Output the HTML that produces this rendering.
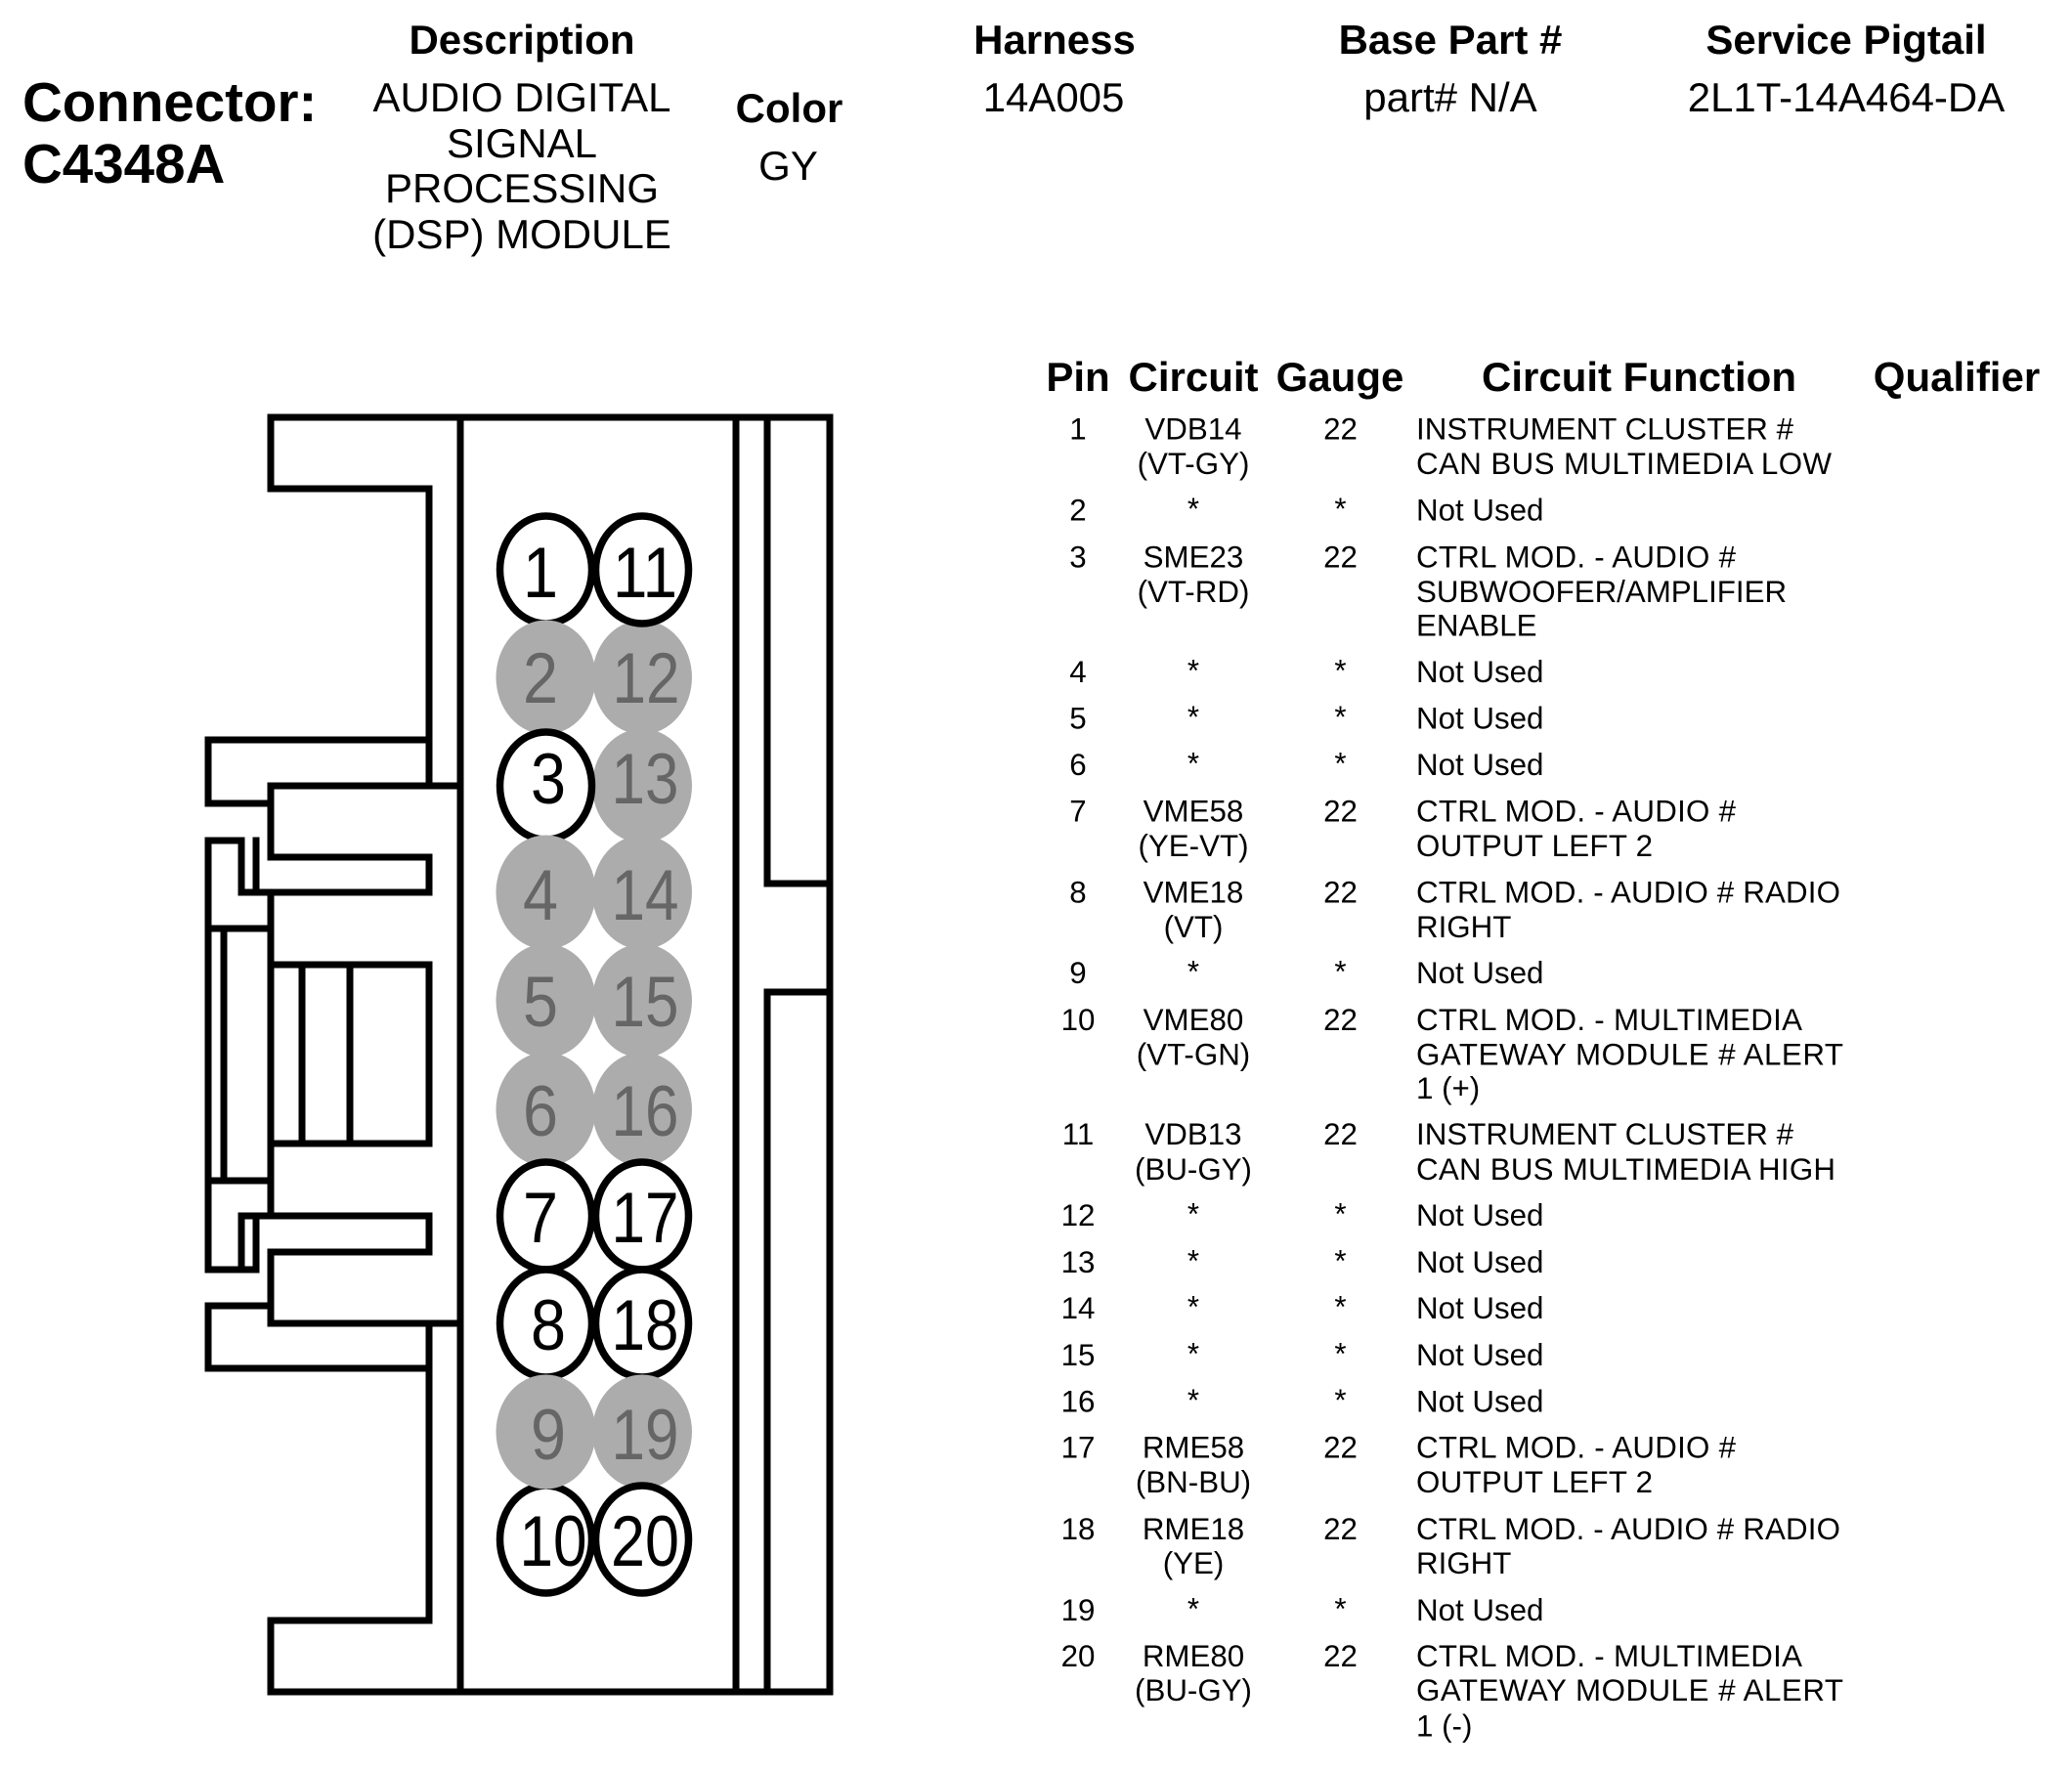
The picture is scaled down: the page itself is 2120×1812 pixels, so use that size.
<!DOCTYPE html>
<html lang="en">
<head>
<meta charset="utf-8">
<title>Connector C4348A</title>
<style>
html,body{margin:0;padding:0;background:#fff;}
svg{display:block;}
text{font-family:"Liberation Sans",Arial,sans-serif;fill:#000;}
.b{font-weight:bold;font-size:42px;text-anchor:middle;}
.h{font-size:42px;text-anchor:middle;}
.t{font-size:31.3px;}
.c{font-size:31.3px;text-anchor:middle;}
.l{fill:none;stroke:#000;stroke-width:7;stroke-linecap:square;stroke-linejoin:miter;}
.w{fill:#fff;stroke:#000;stroke-width:7.5;}
.g{fill:#acacac;stroke:none;}
.n{font-size:73px;text-anchor:middle;}
.gt{fill:#666;}
</style>
</head>
<body>
<svg xmlns="http://www.w3.org/2000/svg" width="2120" height="1812" viewBox="0 0 2120 1812">
<rect width="2120" height="1812" fill="#fff"/>

<!-- Top header -->
<text x="23" y="124" style="font-size:56.5px;font-weight:bold">Connector:</text>
<text x="23" y="187" style="font-size:56.5px;font-weight:bold">C4348A</text>
<text class="b" x="534" y="55">Description</text>
<text class="h" x="534" y="114">AUDIO DIGITAL</text>
<text class="h" x="534" y="161">SIGNAL</text>
<text class="h" x="534" y="207">PROCESSING</text>
<text class="h" x="534" y="254">(DSP) MODULE</text>
<text class="b" x="807.5" y="125">Color</text>
<text class="h" x="806.5" y="184">GY</text>
<text class="b" x="1079" y="55">Harness</text>
<text class="h" x="1078" y="114">14A005</text>
<text class="b" x="1484" y="55">Base Part #</text>
<text class="h" x="1484" y="114">part# N/A</text>
<text class="b" x="1889" y="55">Service Pigtail</text>
<text class="h" x="1889" y="114">2L1T-14A464-DA</text>

<!-- Connector outline -->
<g class="l">
<path d="M277 427H849V1731H277V1658H439V1354H277V1281H439V1244H247V1299H213V1208H277V1170H439V987H277V913H439V877H277V804H471"/>
<path d="M471 427V1731"/>
<path d="M753 427V1731"/>
<path d="M785 427V904H849"/>
<path d="M849 1015H785V1731"/>
<path d="M277 427V500H439V804"/>
<path d="M439 757H213V822H277V804"/>
<path d="M277 913H247V860H213V1299H262V1244"/>
<path d="M262 860V913"/>
<path d="M213 950H277"/>
<path d="M229 950V1208"/>
<path d="M277 987V1244"/>
<path d="M309 987V1170"/>
<path d="M358 987V1170"/>
<path d="M277 1354V1336H213V1400H439"/>
<path d="M439 1354H471"/>
</g>

<!-- Pins -->
<ellipse class="w" cx="558.5" cy="583" rx="47" ry="55"/>
<ellipse class="g" cx="657" cy="693" rx="51" ry="58.5"/>
<ellipse class="w" cx="657" cy="583" rx="47.5" ry="55"/>
<ellipse class="g" cx="558.5" cy="693" rx="51" ry="58.5"/>
<ellipse class="g" cx="657" cy="804" rx="51" ry="58.5"/>
<ellipse class="w" cx="558.5" cy="804" rx="47" ry="55"/>
<ellipse class="g" cx="657" cy="913" rx="51" ry="58.5"/>
<ellipse class="g" cx="558.5" cy="913" rx="51" ry="58.5"/>
<ellipse class="g" cx="657" cy="1024" rx="51" ry="58.5"/>
<ellipse class="g" cx="558.5" cy="1024" rx="51" ry="58.5"/>
<ellipse class="g" cx="657" cy="1135" rx="51" ry="58.5"/>
<ellipse class="g" cx="558.5" cy="1135" rx="51" ry="58.5"/>
<ellipse class="w" cx="558.5" cy="1244" rx="47" ry="55"/>
<ellipse class="w" cx="657" cy="1244" rx="47.5" ry="55"/>
<ellipse class="w" cx="558.5" cy="1354" rx="47" ry="55"/>
<ellipse class="w" cx="657" cy="1354" rx="47.5" ry="55"/>
<ellipse class="w" cx="558.5" cy="1575" rx="47" ry="55"/>
<ellipse class="g" cx="558.5" cy="1465" rx="51" ry="58.5"/>
<ellipse class="g" cx="657" cy="1465" rx="51" ry="58.5"/>
<ellipse class="w" cx="657" cy="1575" rx="47.5" ry="55"/>

<g class="pins">
<text class="n" x="553" y="611" textLength="36" lengthAdjust="spacingAndGlyphs">1</text>
<text class="n gt" x="553" y="719" textLength="36" lengthAdjust="spacingAndGlyphs">2</text>
<text class="n" x="561" y="822" textLength="36" lengthAdjust="spacingAndGlyphs">3</text>
<text class="n gt" x="553" y="941" textLength="36" lengthAdjust="spacingAndGlyphs">4</text>
<text class="n gt" x="553" y="1050" textLength="36" lengthAdjust="spacingAndGlyphs">5</text>
<text class="n gt" x="553" y="1162" textLength="36" lengthAdjust="spacingAndGlyphs">6</text>
<text class="n" x="553" y="1271" textLength="36" lengthAdjust="spacingAndGlyphs">7</text>
<text class="n" x="561" y="1381" textLength="36" lengthAdjust="spacingAndGlyphs">8</text>
<text class="n gt" x="561" y="1493" textLength="36" lengthAdjust="spacingAndGlyphs">9</text>
<text class="n" x="566" y="1602" textLength="69" lengthAdjust="spacingAndGlyphs">10</text>
<text class="n" x="660" y="611" textLength="66" lengthAdjust="spacingAndGlyphs">11</text>
<text class="n gt" x="661" y="719" textLength="69" lengthAdjust="spacingAndGlyphs">12</text>
<text class="n gt" x="660" y="822" textLength="69" lengthAdjust="spacingAndGlyphs">13</text>
<text class="n gt" x="660" y="941" textLength="69" lengthAdjust="spacingAndGlyphs">14</text>
<text class="n gt" x="660" y="1050" textLength="69" lengthAdjust="spacingAndGlyphs">15</text>
<text class="n gt" x="660" y="1162" textLength="69" lengthAdjust="spacingAndGlyphs">16</text>
<text class="n" x="660" y="1271" textLength="69" lengthAdjust="spacingAndGlyphs">17</text>
<text class="n" x="660" y="1381" textLength="69" lengthAdjust="spacingAndGlyphs">18</text>
<text class="n gt" x="660" y="1493" textLength="69" lengthAdjust="spacingAndGlyphs">19</text>
<text class="n" x="660" y="1602" textLength="70" lengthAdjust="spacingAndGlyphs">20</text>
</g>

<!-- Table header -->
<text class="b" x="1103" y="400">Pin</text>
<text class="b" x="1221" y="400">Circuit</text>
<text class="b" x="1371" y="400">Gauge</text>
<text class="b" x="1677" y="400">Circuit Function</text>
<text class="b" x="2002" y="400">Qualifier</text>

<!-- Pin column -->
<g>
<text class="c" x="1103" y="449.5">1</text>
<text class="c" x="1103" y="532.5">2</text>
<text class="c" x="1103" y="580.5">3</text>
<text class="c" x="1103" y="698">4</text>
<text class="c" x="1103" y="745.5">5</text>
<text class="c" x="1103" y="793">6</text>
<text class="c" x="1103" y="840.5">7</text>
<text class="c" x="1103" y="923.5">8</text>
<text class="c" x="1103" y="1006">9</text>
<text class="c" x="1103" y="1054">10</text>
<text class="c" x="1103" y="1171">11</text>
<text class="c" x="1103" y="1254">12</text>
<text class="c" x="1103" y="1302">13</text>
<text class="c" x="1103" y="1349">14</text>
<text class="c" x="1103" y="1397">15</text>
<text class="c" x="1103" y="1444.5">16</text>
<text class="c" x="1103" y="1491.5">17</text>
<text class="c" x="1103" y="1575">18</text>
<text class="c" x="1103" y="1658">19</text>
<text class="c" x="1103" y="1705">20</text>
</g>

<!-- Circuit column -->
<g>
<text class="c" x="1221" y="449.5">VDB14</text><text class="c" x="1221" y="485">(VT-GY)</text>
<text class="c" x="1221" y="531">*</text>
<text class="c" x="1221" y="580.5">SME23</text><text class="c" x="1221" y="616">(VT-RD)</text>
<text class="c" x="1221" y="696.5">*</text>
<text class="c" x="1221" y="744">*</text>
<text class="c" x="1221" y="791.5">*</text>
<text class="c" x="1221" y="840.5">VME58</text><text class="c" x="1221" y="876">(YE-VT)</text>
<text class="c" x="1221" y="923.5">VME18</text><text class="c" x="1221" y="959">(VT)</text>
<text class="c" x="1221" y="1004.5">*</text>
<text class="c" x="1221" y="1054">VME80</text><text class="c" x="1221" y="1089.5">(VT-GN)</text>
<text class="c" x="1221" y="1171">VDB13</text><text class="c" x="1221" y="1207">(BU-GY)</text>
<text class="c" x="1221" y="1252.5">*</text>
<text class="c" x="1221" y="1300.5">*</text>
<text class="c" x="1221" y="1347.5">*</text>
<text class="c" x="1221" y="1395.5">*</text>
<text class="c" x="1221" y="1443">*</text>
<text class="c" x="1221" y="1491.5">RME58</text><text class="c" x="1221" y="1527">(BN-BU)</text>
<text class="c" x="1221" y="1575">RME18</text><text class="c" x="1221" y="1610">(YE)</text>
<text class="c" x="1221" y="1656.5">*</text>
<text class="c" x="1221" y="1705">RME80</text><text class="c" x="1221" y="1740">(BU-GY)</text>
</g>

<!-- Gauge column -->
<g>
<text class="c" x="1371.5" y="449.5">22</text>
<text class="c" x="1371.5" y="531">*</text>
<text class="c" x="1371.5" y="580.5">22</text>
<text class="c" x="1371.5" y="696.5">*</text>
<text class="c" x="1371.5" y="744">*</text>
<text class="c" x="1371.5" y="791.5">*</text>
<text class="c" x="1371.5" y="840.5">22</text>
<text class="c" x="1371.5" y="923.5">22</text>
<text class="c" x="1371.5" y="1004.5">*</text>
<text class="c" x="1371.5" y="1054">22</text>
<text class="c" x="1371.5" y="1171">22</text>
<text class="c" x="1371.5" y="1252.5">*</text>
<text class="c" x="1371.5" y="1300.5">*</text>
<text class="c" x="1371.5" y="1347.5">*</text>
<text class="c" x="1371.5" y="1395.5">*</text>
<text class="c" x="1371.5" y="1443">*</text>
<text class="c" x="1371.5" y="1491.5">22</text>
<text class="c" x="1371.5" y="1575">22</text>
<text class="c" x="1371.5" y="1656.5">*</text>
<text class="c" x="1371.5" y="1705">22</text>
</g>

<!-- Function column -->
<g>
<text class="t" x="1449" y="449.5" textLength="386">INSTRUMENT CLUSTER #</text>
<text class="t" x="1449" y="485" textLength="425">CAN BUS MULTIMEDIA LOW</text>
<text class="t" x="1449" y="532.5">Not Used</text>
<text class="t" x="1449" y="580.5" textLength="327">CTRL MOD. - AUDIO #</text>
<text class="t" x="1449" y="616">SUBWOOFER/AMPLIFIER</text>
<text class="t" x="1449" y="650.5">ENABLE</text>
<text class="t" x="1449" y="698">Not Used</text>
<text class="t" x="1449" y="745.5">Not Used</text>
<text class="t" x="1449" y="793">Not Used</text>
<text class="t" x="1449" y="840.5" textLength="327">CTRL MOD. - AUDIO #</text>
<text class="t" x="1449" y="876" textLength="242">OUTPUT LEFT 2</text>
<text class="t" x="1449" y="923.5" textLength="434">CTRL MOD. - AUDIO # RADIO</text>
<text class="t" x="1449" y="959">RIGHT</text>
<text class="t" x="1449" y="1006">Not Used</text>
<text class="t" x="1449" y="1054" textLength="395">CTRL MOD. - MULTIMEDIA</text>
<text class="t" x="1449" y="1089.5" textLength="437">GATEWAY MODULE # ALERT</text>
<text class="t" x="1449" y="1124">1 (+)</text>
<text class="t" x="1449" y="1171" textLength="386">INSTRUMENT CLUSTER #</text>
<text class="t" x="1449" y="1207" textLength="429">CAN BUS MULTIMEDIA HIGH</text>
<text class="t" x="1449" y="1254">Not Used</text>
<text class="t" x="1449" y="1302">Not Used</text>
<text class="t" x="1449" y="1349">Not Used</text>
<text class="t" x="1449" y="1397">Not Used</text>
<text class="t" x="1449" y="1444.5">Not Used</text>
<text class="t" x="1449" y="1491.5" textLength="327">CTRL MOD. - AUDIO #</text>
<text class="t" x="1449" y="1527" textLength="242">OUTPUT LEFT 2</text>
<text class="t" x="1449" y="1575" textLength="434">CTRL MOD. - AUDIO # RADIO</text>
<text class="t" x="1449" y="1610">RIGHT</text>
<text class="t" x="1449" y="1658">Not Used</text>
<text class="t" x="1449" y="1705" textLength="395">CTRL MOD. - MULTIMEDIA</text>
<text class="t" x="1449" y="1740" textLength="437">GATEWAY MODULE # ALERT</text>
<text class="t" x="1449" y="1776.5">1 (-)</text>
</g>
</svg>
</body>
</html>
